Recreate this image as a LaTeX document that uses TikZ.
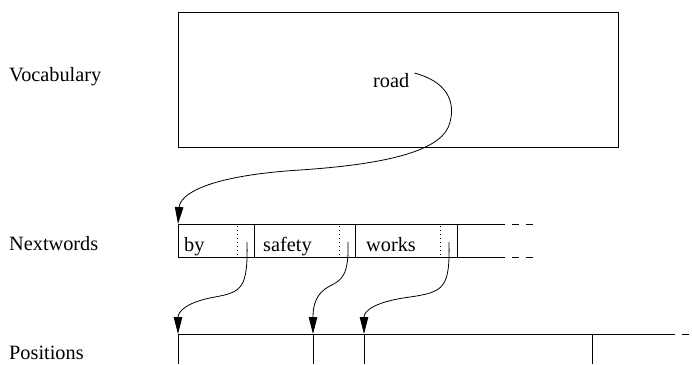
\documentclass[tikz,border=0pt]{standalone}
\usepackage{fontspec}
\setmainfont{Liberation Serif}
\usetikzlibrary{arrows.meta}

\tikzset{
  txt/.style={font=\fontsize{20.3}{24}\selectfont, inner sep=0pt, anchor=base west},
  frame/.style={draw, line width=0.8pt},
  sep/.style={draw, line width=0.8pt, dash pattern=on 0.8pt off 3.2pt},
  link/.style={draw, line width=0.8pt, -{Triangle[length=17pt,width=8.5pt]}},
  tail/.style={draw, line width=0.8pt, dash pattern=on 7pt off 7pt}
}

\begin{document}
\begin{tikzpicture}[x=1pt,y=-1pt]
  \useasboundingbox (0,0) rectangle (692,364);

  % row labels
  \node[txt] (lvoc) at (9,81) {Vocabulary};
  \node[txt] (lnext) at (9,250) {Nextwords};
  \node[txt] (lpos) at (9,359) {Positions};

  % vocabulary table
  \node[frame, minimum width=440pt, minimum height=135pt, inner sep=0pt]
    (vocab) at (398,79.5) {};
  \node[txt] (road) at (373,87) {road};

  % nextwords strip
  \coordinate (ntl) at (178,224);
  \coordinate (nbl) at (178,257);
  \path[frame] (505,224) -- (ntl) -- (nbl) -- (505,257);
  \path[tail] (512,224) -- (535,224);
  \path[tail] (512,257) -- (535,257);
  \foreach \x in {254,355,457} \path[frame] (\x,224) -- (\x,257);
  \foreach \x in {237.5,339,440} \path[sep] (\x,226) -- (\x,257);
  \node[txt] (wby) at (184,251) {by};
  \node[txt] (wsafety) at (263,251) {safety};
  \node[txt] (wworks) at (366,251) {works};
  \coordinate (s1) at (247,242);
  \coordinate (s2) at (348,242);
  \coordinate (s3) at (449,242);

  % positions array
  \coordinate (p1) at (178,334);
  \coordinate (p2) at (313,334);
  \coordinate (p3) at (364,334);
  \coordinate (p4) at (592.5,334);
  \path[frame] (p1) -- (675,334);
  \path[tail] (682,334) -- (696,334);
  \foreach \p in {p1,p2,p3,p4} \path[frame] (\p) -- (\p |- 0,364);

  % pointers
  \path[link] (road.east) ++(5,-7) .. controls (445,81) and (456,100) .. (450,122)
    .. controls (444,150) and (390,164) .. (300,170)
    .. controls (205,176) and (180,195) .. (ntl);
  \path[link] (s1) .. controls (248,288) and (242,292) .. (215,297)
    .. controls (186,302) and (178,312) .. (p1);
  \path[link] (s2) .. controls (349,275) and (342,280) .. (330,286)
    .. controls (316,293) and (313,305) .. (p2);
  \path[link] (s3) .. controls (450,288) and (444,292) .. (410,297)
    .. controls (372,302) and (364,312) .. (p3);
\end{tikzpicture}
\end{document}
